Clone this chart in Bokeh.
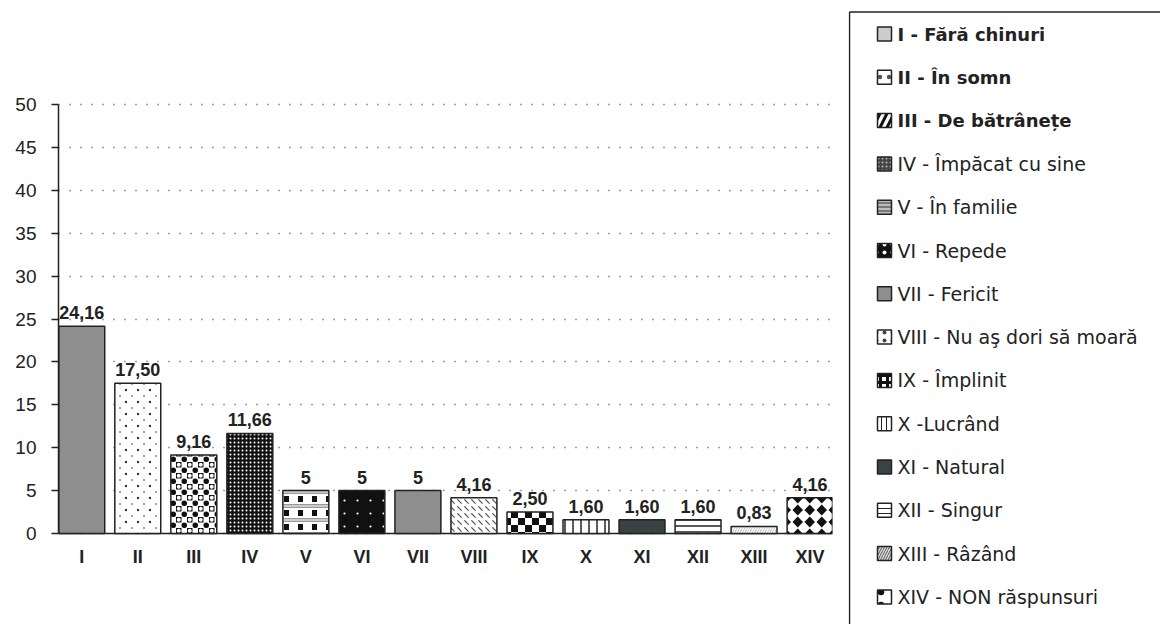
from urllib.parse import quote
from bokeh.plotting import figure
from bokeh.models import Range1d, ColumnDataSource, FixedTicker, ImageURLTexture
from bokeh.layouts import row
from bokeh.embed import file_html
from bokeh.resources import INLINE
from bokeh.core.properties import value

# ---- data ----
categories = ["I", "II", "III", "IV", "V", "VI", "VII", "VIII", "IX", "X", "XI", "XII", "XIII", "XIV"]
values = [24.16, 17.50, 9.16, 11.66, 5, 5, 5, 4.16, 2.50, 1.60, 1.60, 1.60, 0.83, 4.16]
value_labels = ["24,16", "17,50", "9,16", "11,66", "5", "5", "5", "4,16", "2,50", "1,60", "1,60", "1,60", "0,83", "4,16"]
legend_labels = [
    "I - Fără chinuri",
    "II - În somn",
    "III - De bătrânețe",
    "IV - Împăcat cu sine",
    "V - În familie",
    "VI - Repede",
    "VII - Fericit",
    "VIII - Nu aş dori să moară",
    "IX - Împlinit",
    "X -Lucrând",
    "XI - Natural",
    "XII - Singur",
    "XIII - Râzând",
    "XIV - NON răspunsuri",
]
legend_bold = [True, True, True] + [False] * 11
y_ticks = [0, 5, 10, 15, 20, 25, 30, 35, 40, 45, 50]


# ---- pattern textures (styles) ----
def tex(w, h, body):
    svg = f'<svg xmlns="http://www.w3.org/2000/svg" width="{w}" height="{h}">{body}</svg>'
    return ImageURLTexture(url="data:image/svg+xml;charset=utf-8," + quote(svg), repetition="repeat")


textures = {
    "t2": tex(12, 12, '<circle cx="6" cy="6" r="1.2" fill="#333"/><circle cx="0" cy="0" r="0.9" fill="#777"/>'
                      '<circle cx="12" cy="0" r="0.9" fill="#777"/><circle cx="0" cy="12" r="0.9" fill="#777"/>'
                      '<circle cx="12" cy="12" r="0.9" fill="#777"/>'),
    "t3": tex(11, 11, '<rect x="0" y="0" width="5.5" height="5.5" fill="#111"/>'
                      '<circle cx="8.25" cy="8.25" r="2.8" fill="#111"/><circle cx="2.75" cy="2.75" r="2.0" fill="#fff"/>'),
    "t5": tex(14, 14, '<rect x="0" y="0" width="14" height="4" fill="#999"/>'
                      '<rect x="0" y="1.5" width="14" height="1" fill="#fff"/>'
                      '<rect x="4" y="6" width="5" height="6" fill="#111"/>'),
    "t6": tex(13, 13, '<circle cx="6.5" cy="6.5" r="1.1" fill="#fff"/>'),
    "t9": tex(14, 14, '<rect x="0" y="0" width="7" height="7" fill="#111"/><rect x="7" y="7" width="7" height="7" fill="#111"/>'),
    "t14": tex(11.5, 12, '<polygon points="5.75,0.5 11,6 5.75,11.5 0.5,6" fill="#111"/>'),
}

fills = ["#8e8e8e", "#ffffff", "#ffffff", "#111111", "#ffffff", "#111111", "#8e8e8e",
         "#ffffff", "#ffffff", "#ffffff", "#3a4343", "#ffffff", "#bdbdbd", "#ffffff"]
hatches = [" ", "t2", "t3", "dot", "t5", "t6", " ",
           "left_diagonal_dash", "t9", "vertical_line", " ", "horizontal_line", "right_diagonal_line", "t14"]
hcolors = ["#000", "#444", "#111", "#ffffff", "#111", "#ffffff", "#000",
           "#555", "#111", "#222", "#000", "#222", "#ffffff", "#111"]
hscales = [10, 12, 11, 4, 14, 13, 10, 7, 14, 8, 10, 6, 5, 12]
hweights = [1, 1, 1, 1, 1, 1, 1, 1.2, 1, 1.5, 1, 1.5, 1.5, 1]

leg_fills = ["#cccccc", "#ffffff", "#ffffff", "#444444", "#bbbbbb", "#111111", "#8e8e8e",
             "#ffffff", "#ffffff", "#ffffff", "#3a4343", "#ffffff", "#dddddd", "#ffffff"]
leg_hatches = [" ", "dot", "right_diagonal_line", "dot", "horizontal_line", "dot", " ",
               "dot", "cross", "vertical_line", " ", "horizontal_line", "right_diagonal_line", "dot"]
leg_hcolors = ["#000", "#555", "#111", "#bbbbbb", "#333", "#ffffff", "#000",
               "#444", "#111", "#222", "#000", "#222", "#555", "#111"]
leg_hscales = [10, 9, 14, 4, 4, 8, 10, 8, 7, 5, 10, 5, 5, 13]
leg_hweights = [1, 1, 3, 1, 1, 1, 1, 1, 3, 1, 1, 1, 1, 1]

SANS = "Liberation Sans, Arial, sans-serif"
WIDE = "DejaVu Sans, sans-serif"

xs = list(range(1, len(categories) + 1))
src = ColumnDataSource(dict(x=xs, top=values, lab=value_labels, cat=categories, fill=fills, hatch=hatches,
                            hcolor=hcolors, hscale=hscales, hweight=hweights, zero=[0] * len(xs)))

H = 624
PX_PER_UNIT = 429 / 50
ZERO_Y = 533
p = figure(width=848, height=H, x_range=Range1d(0.585, 14.4),
           y_range=Range1d(-(H - ZERO_Y) / PX_PER_UNIT, ZERO_Y / PX_PER_UNIT),
           x_axis_type=None, output_backend="svg", toolbar_location=None,
           min_border_left=58, min_border_right=16, min_border_top=0, min_border_bottom=0)
p.outline_line_color = None
p.xgrid.visible = False
p.ygrid.ticker = FixedTicker(ticks=y_ticks)
p.ygrid.grid_line_color = "#444444"
p.ygrid.grid_line_dash = "1 10"
p.ygrid.grid_line_width = 1.5
p.ygrid.bounds = (0, 50)

p.yaxis.ticker = FixedTicker(ticks=y_ticks)
p.yaxis.bounds = (0, 50)
p.yaxis.axis_line_color = "#222222"
p.yaxis.axis_line_width = 1.5
p.yaxis.major_tick_line_color = "#222222"
p.yaxis.major_tick_line_width = 1.5
p.yaxis.major_tick_out = 7
p.yaxis.major_tick_in = 0
p.yaxis.minor_tick_line_color = None
p.yaxis.major_label_text_font = SANS
p.yaxis.major_label_text_font_size = "19px"
p.yaxis.major_label_text_color = "#222222"
p.yaxis.major_label_standoff = 15

# x baseline
p.segment(x0=[0.585], y0=[0], x1=[14.4], y1=[0], line_color="#222222", line_width=1.5)

p.vbar(x="x", top="top", width=0.82, source=src, fill_color="fill",
       hatch_pattern="hatch", hatch_color="hcolor", hatch_scale="hscale", hatch_weight="hweight",
       hatch_extra=textures, line_color="#222222", line_width=1.5)
p.text(x="x", y="top", text="lab", source=src, text_align="center", text_baseline="bottom",
       y_offset=-7, text_font=value(SANS), text_font_style="bold", text_font_size="18px",
       text_color="#222222")
# category labels under the baseline
p.text(x="x", y="zero", text="cat", source=src, text_align="center", text_baseline="top",
       y_offset=13, text_font=value(SANS), text_font_style="bold", text_font_size="18px",
       text_color="#222222")

# ---- legend panel ----
LW = 312
lg = figure(width=LW, height=H, x_range=Range1d(0, LW), y_range=Range1d(H, 0),
            x_axis_type=None, y_axis_type=None, min_border=0, output_backend="svg",
            toolbar_location=None)
lg.outline_line_color = None
lg.grid.visible = False
lg.segment(x0=[1, 1], y0=[11.5, 11.5], x1=[1, LW], y1=[H, 11.5], line_color="#222222", line_width=1.5)

ly = [33.5 + 43.3 * i for i in range(len(legend_labels))]
lsrc = ColumnDataSource(dict(x=[36] * len(ly), y=ly, fill=leg_fills, hatch=leg_hatches,
                             hcolor=leg_hcolors, hscale=leg_hscales, hweight=leg_hweights,
                             tx=[49] * len(ly), lab=legend_labels,
                             style=["bold" if b else "normal" for b in legend_bold],
                             size=["18px" if b else "19px" for b in legend_bold]))
lg.rect(x="x", y="y", width=14, height=14, source=lsrc, fill_color="fill",
        hatch_pattern="hatch", hatch_color="hcolor", hatch_scale="hscale", hatch_weight="hweight",
        line_color="#222222", line_width=1.5)
lg.text(x="tx", y="y", text="lab", source=lsrc, text_align="left", text_baseline="middle",
        text_font=value(WIDE), text_font_style="style", text_font_size="size", text_color="#222222")

layout = row(p, lg)
open("out.html", "w").write(file_html(layout, INLINE))
